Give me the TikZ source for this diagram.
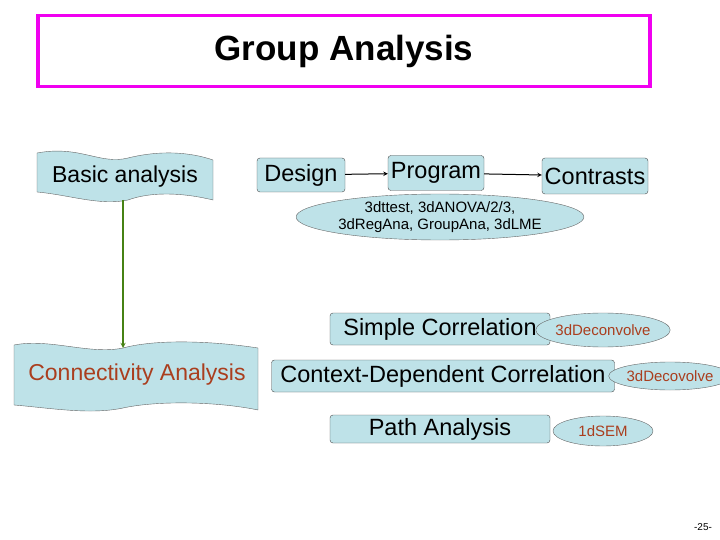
\documentclass[tikz,border=0pt]{standalone}
\usepackage{fontspec}
\setmainfont{Liberation Sans}
\usetikzlibrary{positioning}
\usetikzlibrary{shapes.geometric}
\usetikzlibrary{arrows}
\definecolor{lblue}{RGB}{190,226,232}
\definecolor{brn}{RGB}{170,62,30}
\definecolor{mag}{RGB}{240,0,240}
\definecolor{grn}{RGB}{70,130,20}
\tikzset{
  stagebox/.style={draw=black!70, fill=lblue, rounded corners=3pt, inner sep=2pt, font=\fontsize{23.5}{26}\selectfont, anchor=center},
  tool/.style={draw=black!60, fill=lblue, ellipse, inner sep=0pt, font=\fontsize{15}{17}\selectfont, text=brn},
  flag/.style={draw=black!60, fill=lblue},
}
\begin{document}
\begin{tikzpicture}[x=1pt,y=-1pt]
        \useasboundingbox (0,0) rectangle (720,540);
        % title %
        \node[draw=mag, line width=3.5pt, minimum width=612pt, minimum height=71pt, font=\bfseries\fontsize{35}{38}\selectfont] (title) at (344,51) {Group Analysis};

        % flags %
        \draw[flag] (37,153) .. controls (80,145) and (100,165) .. (128,158) .. controls (160,150) and (190,152) .. (213,160)
          -- (213,200) .. controls (180,192) and (150,192) .. (128,200) .. controls (100,206) and (70,195) .. (37,192) -- cycle;
        \draw[flag] (14,345) .. controls (50,338) and (90,355) .. (123,348) .. controls (160,338) and (220,342) .. (258,348)
          -- (258,410) .. controls (220,402) and (160,400) .. (123,408) .. controls (90,415) and (50,408) .. (14,405) -- cycle;
        \node[font=\fontsize{23}{26}\selectfont] (basic) at (125,177) {Basic analysis};
        \node[font=\fontsize{23}{26}\selectfont, text=brn] (conn) at (137,375) {Connectivity Analysis};
        \coordinate (bstart) at (123,200);
        \coordinate (cend) at (123,348);

        % stages %
        \node[stagebox, minimum width=88pt, minimum height=34pt] (design) at (301,175) {Design};
        \node[stagebox, minimum width=96pt, minimum height=35pt] (program) at (436,173) {Program};
        \node[stagebox, minimum width=106pt, minimum height=36pt] (contrasts) at (595,176) {Contrasts};
        \node[tool, minimum width=194pt, minimum height=46pt, text=black, align=center] (prog3d) at (440,217) {3dttest, 3dANOVA/2/3,\\3dRegAna, GroupAna, 3dLME};

        \node[stagebox, minimum width=220pt, minimum height=32pt] (simple) at (440,329) {Simple Correlation};
        \node[stagebox, minimum width=343pt, minimum height=32pt] (context) at (443,376) {Context-Dependent Correlation};
        \node[stagebox, minimum width=220pt, minimum height=28pt] (path) at (440,429) {Path Analysis};
        \node[tool, minimum width=100pt, minimum height=34pt] (decon) at (603,330) {3dDeconvolve};
        \node[tool, minimum width=94pt, minimum height=28pt] (decov) at (670,376) {3dDecovolve};
        \node[tool, minimum width=100pt, minimum height=30pt] (sem) at (603,431) {1dSEM};

        \node[font=\fontsize{10}{11}\selectfont] (page) at (703,527) {-25-};

        % edges %
        \draw[->, >=stealth, line width=1pt] (design) -- (program);
        \draw[->, >=stealth, line width=1pt] (program) -- (contrasts);
        \draw[->, >=stealth, grn, line width=1.3pt] (bstart) -- (cend);
      \end{tikzpicture}
\end{document}
